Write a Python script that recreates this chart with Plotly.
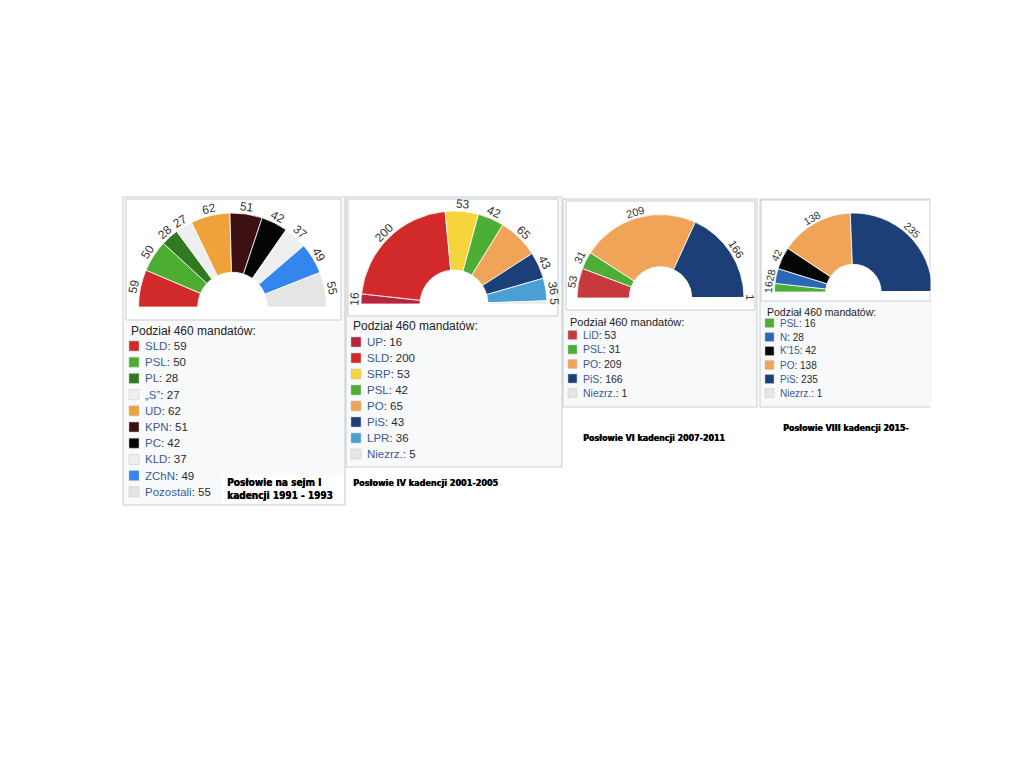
import math
import plotly.graph_objects as go

TOTAL_SEATS = 460
LEGEND_TITLE = "Podział 460 mandatów:"

# Panel 1 - Sejm I kadencji 1991-1993
p1_parties = ["SLD", "PSL", "PL", "„S”", "UD", "KPN", "PC", "KLD", "ZChN", "Pozostali"]
p1_seats = [59, 50, 28, 27, 62, 51, 42, 37, 49, 55]
p1_colors = ["#d2292b", "#4cad31", "#2f7a1f", "#efefef", "#f0a23a", "#3d1111",
             "#050505", "#efefef", "#3386ee", "#e5e5e5"]
p1_caption = ["Posłowie na sejm I", "kadencji 1991 - 1993"]

# Panel 2 - IV kadencja 2001-2005
p2_parties = ["UP", "SLD", "SRP", "PSL", "PO", "PiS", "LPR", "Niezrz."]
p2_seats = [16, 200, 53, 42, 65, 43, 36, 5]
p2_colors = ["#b8243f", "#d22a2b", "#f5d43c", "#4cae34", "#f0a458", "#1c3f78",
             "#4a9fd3", "#e6e6e6"]
p2_caption = ["Posłowie IV kadencji 2001-2005"]

# Panel 3 - VI kadencja 2007-2011
p3_parties = ["LiD", "PSL", "PO", "PiS", "Niezrz."]
p3_seats = [53, 31, 209, 166, 1]
p3_colors = ["#c8393d", "#4cae34", "#f0a458", "#1c3f78", "#e6e6e6"]
p3_caption = ["Posłowie VI kadencji 2007-2011"]

# Panel 4 - VIII kadencja 2015-
p4_parties = ["PSL", "N", "K'15", "PO", "PiS", "Niezrz."]
p4_seats = [16, 28, 42, 138, 235, 1]
p4_colors = ["#4cae34", "#2a68b5", "#050505", "#f0a458", "#1c3f78", "#e6e6e6"]
p4_caption = ["Posłowie VIII kadencji 2015-"]

W, H = 1024, 768
OFF = 8  # page body margin


def fx(px):
    return (px - OFF) / W


def fy(py):
    return 1 - (py - OFF) / H


panels = [
    dict(parties=p1_parties, seats=p1_seats, colors=p1_colors, caption=p1_caption,
         outer=(123, 197, 345, 505), box=(126, 199, 341, 320),
         cx=232.5, cy=307, R=94, hole=0.37,
         title_x=129, title_y=331, item_y0=346, item_dy=16.2, sw=10, text_x=143,
         fs=11.5, lab_fs=12, lab_gap=7,
         cap_x=225, cap_y0=482, cap_dy=13, cap_fs=10, cap_bg=(222, 475, 344, 503)),
    dict(parties=p2_parties, seats=p2_seats, colors=p2_colors, caption=p2_caption,
         outer=(346, 197, 562, 467), box=(348, 199, 558, 316),
         cx=454, cy=304, R=93, hole=0.365,
         title_x=351, title_y=326, item_y0=342, item_dy=16, sw=10, text_x=365,
         fs=11.5, lab_fs=12, lab_gap=7,
         cap_x=351, cap_y0=483, cap_dy=13, cap_fs=9, cap_bg=None),
    dict(parties=p3_parties, seats=p3_seats, colors=p3_colors, caption=p3_caption,
         outer=(563, 199, 757, 407), box=(566, 201, 755, 310),
         cx=660.5, cy=298, R=83.5, hole=0.375,
         title_x=568, title_y=322, item_y0=335, item_dy=14.5, sw=9, text_x=581,
         fs=10.5, lab_fs=11, lab_gap=6.5,
         cap_x=581, cap_y0=438, cap_dy=13, cap_fs=8.8, cap_bg=None),
    dict(parties=p4_parties, seats=p4_seats, colors=p4_colors, caption=p4_caption,
         outer=(760, 199, 931, 407), box=(761, 200, 930, 301),
         cx=853.5, cy=292, R=79, hole=0.35,
         title_x=765, title_y=312, item_y0=323, item_dy=14, sw=9, text_x=778,
         fs=10, lab_fs=10.5, lab_gap=6,
         cap_x=781, cap_y0=428, cap_dy=13, cap_fs=8.8, cap_bg=None),
]

BORDER = "#c8ccd1"
PANEL_BG = "#f8f9fa"
NAME_COLOR = "#3b5a9a"
TEXT_COLOR = "#2a2a2a"
FONT = "Liberation Sans, Arial, sans-serif"
CAP_FONT = "DejaVu Sans Condensed, Liberation Sans, sans-serif"

fig = go.Figure()
shapes = []
annotations = []

for p in panels:
    ox0, oy0, ox1, oy1 = p["outer"]
    shapes.append(dict(type="rect", xref="paper", yref="paper", layer="below",
                       x0=fx(ox0), x1=fx(ox1), y0=fy(oy1), y1=fy(oy0),
                       fillcolor=PANEL_BG, line=dict(color=BORDER, width=1)))
    bx0, by0, bx1, by1 = p["box"]
    shapes.append(dict(type="rect", xref="paper", yref="paper", layer="below",
                       x0=fx(bx0), x1=fx(bx1), y0=fy(by1), y1=fy(by0),
                       fillcolor="white", line=dict(color=BORDER, width=1)))

    cx, cy, R = p["cx"], p["cy"], p["R"]
    n = len(p["seats"])
    fig.add_trace(go.Pie(
        values=p["seats"] + [TOTAL_SEATS],
        labels=p["parties"] + ["_hidden"],
        marker=dict(colors=p["colors"] + ["rgba(0,0,0,0)"],
                    line=dict(color=["white"] * n + ["rgba(0,0,0,0)"], width=0.8)),
        hole=p["hole"], sort=False, direction="clockwise", rotation=-90,
        textinfo="none", hoverinfo="skip", showlegend=False,
        domain=dict(x=[fx(cx - R), fx(cx + R)], y=[fy(cy + R), fy(cy - R)]),
    ))

    # seat-count labels along the arc (tangential)
    cum = 0
    rl = R + p["lab_gap"]
    for seats in p["seats"]:
        mid = cum + seats / 2
        cum += seats
        theta = math.pi * (1 - mid / TOTAL_SEATS)
        lx = cx + rl * math.cos(theta)
        ly = cy - rl * math.sin(theta)
        if lx > bx1:
            continue
        annotations.append(dict(
            x=fx(lx), y=fy(ly), xref="paper", yref="paper", showarrow=False,
            text=str(seats), textangle=90 - math.degrees(theta),
            xanchor="center", yanchor="middle",
            font=dict(family=FONT, size=p["lab_fs"], color="#333333")))

    # legend
    annotations.append(dict(
        x=fx(p["title_x"]), y=fy(p["title_y"]), xref="paper", yref="paper",
        showarrow=False, text=LEGEND_TITLE, xanchor="left", yanchor="middle",
        font=dict(family=FONT, size=p["fs"] + 0.5, color="#222222")))
    for i, (name, seats, col) in enumerate(zip(p["parties"], p["seats"], p["colors"])):
        iy = p["item_y0"] + i * p["item_dy"]
        sw = p["sw"]
        shapes.append(dict(type="rect", xref="paper", yref="paper", layer="above",
                           x0=fx(p["title_x"]), x1=fx(p["title_x"] + sw),
                           y0=fy(iy + sw / 2), y1=fy(iy - sw / 2),
                           fillcolor=col, line=dict(color="#c4c4c4", width=0.5)))
        annotations.append(dict(
            x=fx(p["text_x"]), y=fy(iy), xref="paper", yref="paper",
            showarrow=False, xanchor="left", yanchor="middle",
            text=f"<span style='color:{NAME_COLOR}'>{name}</span>: {seats}",
            font=dict(family=FONT, size=p["fs"], color=TEXT_COLOR)))

    # caption
    if p["cap_bg"]:
        cx0, cy0, cx1, cy1 = p["cap_bg"]
        shapes.append(dict(type="rect", xref="paper", yref="paper", layer="above",
                           x0=fx(cx0), x1=fx(cx1), y0=fy(cy1), y1=fy(cy0),
                           fillcolor="white", line=dict(width=0)))
    for j, line in enumerate(p["caption"]):
        annotations.append(dict(
            x=fx(p["cap_x"]), y=fy(p["cap_y0"] + j * p["cap_dy"]), xref="paper", yref="paper",
            showarrow=False, xanchor="left", yanchor="middle", text=f"<b>{line}</b>",
            font=dict(family=CAP_FONT, size=p["cap_fs"], color="#000000",
                      shadow="0.4px 0 0 #000000")))

# crop of the last panel at the image edge
shapes.append(dict(type="rect", xref="paper", yref="paper", layer="above",
                   x0=fx(930.5), x1=1, y0=fy(420), y1=fy(190),
                   fillcolor="white", line=dict(width=0)))

fig.update_layout(
    width=W, height=H, margin=dict(l=0, r=0, t=0, b=0),
    paper_bgcolor="white", plot_bgcolor="white",
    shapes=shapes, annotations=annotations,
    xaxis=dict(visible=False), yaxis=dict(visible=False),
)

fig.write_html("out.html")
